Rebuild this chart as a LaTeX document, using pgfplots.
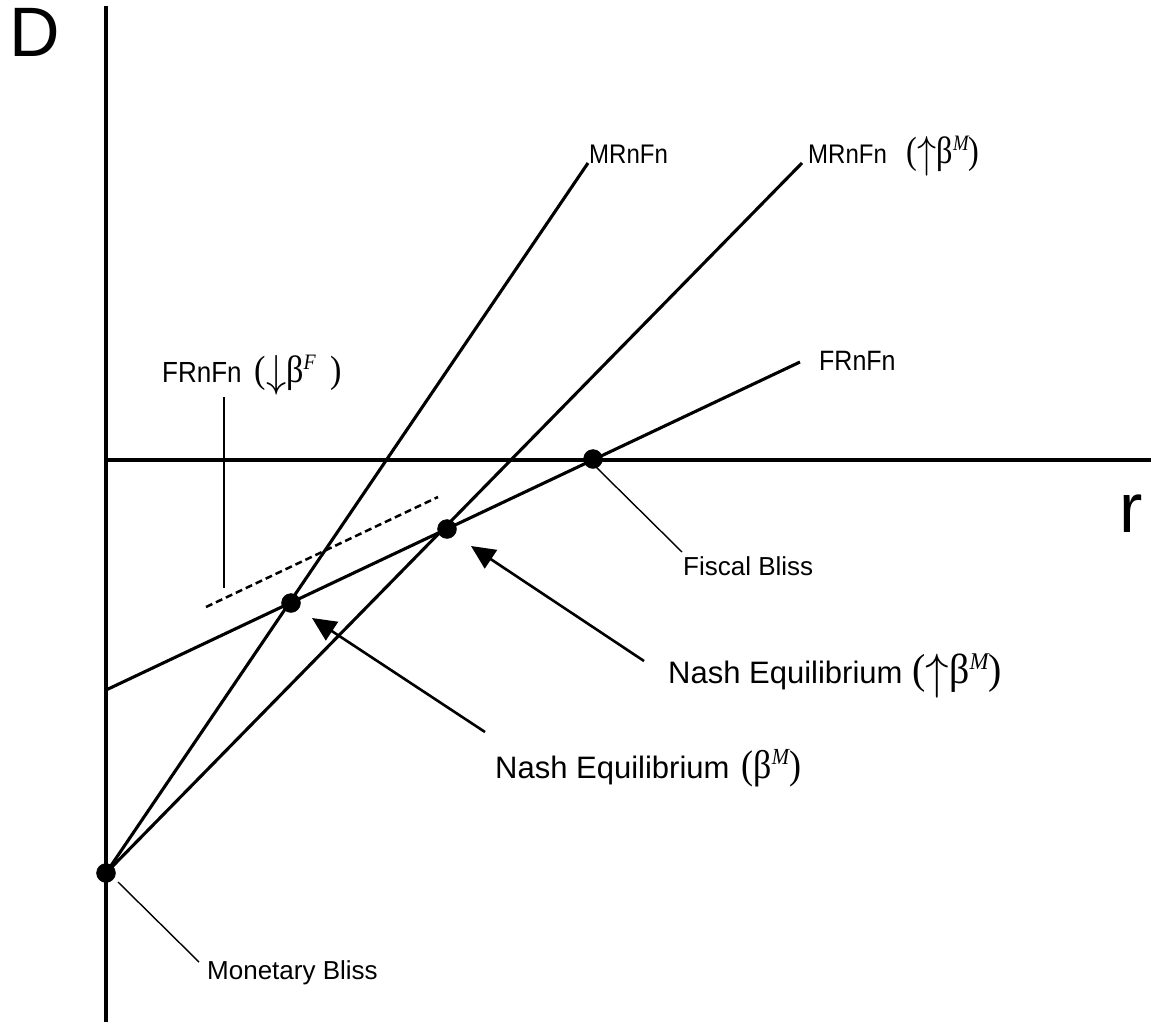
\documentclass[border=0pt]{standalone}
\usepackage{fontspec}
\setmainfont{Liberation Sans}
\newfontfamily\symf{Liberation Serif}
\usepackage{graphicx}
\usepackage{pgfplots}
\pgfplotsset{compat=1.18}
\usetikzlibrary{arrows.meta}

\newcommand{\fs}[1]{\fontsize{#1}{#1}\selectfont}
% thin vertical arrows, scaled to the height of the brackets
\newcommand{\uarr}{\raisebox{-0.12em}{\resizebox{!}{0.82em}{$\uparrow$}}}
\newcommand{\darr}{\raisebox{-0.12em}{\resizebox{!}{0.82em}{$\downarrow$}}}
% Greek/arrow groups set in a serif face, slightly condensed
\newcommand{\grp}[3]{{\symf\fs{#1}\scalebox{#2}[1]{#3}}}
% small labels, a little taller than wide
\newcommand{\tall}[2]{\scalebox{1}[1.12]{\fs{#1}#2}}

\begin{document}
\begin{tikzpicture}
\begin{axis}[
  scale only axis, width=1153pt, height=1026pt,
  xmin=0, xmax=1153, ymin=0, ymax=1026, y dir=reverse,
  hide axis,
]
\path (rel axis cs:0,0) rectangle (rel axis cs:1,1);

% coordinate axes
\addplot[line width=3.5pt] coordinates {(106,6) (106,1022)};
\addplot[line width=3.5pt] coordinates {(106,460) (1151,460)};

% reaction functions
\addplot[line width=3.1pt] coordinates {(106,873) (588,163)};
\addplot[line width=3.1pt] coordinates {(106,873) (802,163)};
\addplot[line width=3.1pt] coordinates {(106,690) (800,362)};
\addplot[line width=2.5pt, dash pattern=on 7pt off 4pt] coordinates {(206,607) (438,497)};

% pointer from the shifted fiscal label
\addplot[line width=2.5pt] coordinates {(224,397) (224,588)};

% leader lines
\addplot[line width=1.4pt] coordinates {(118,882) (199,962)};
\addplot[line width=1.4pt] coordinates {(596,467) (682,552)};

% arrows to the equilibria
\addplot[line width=2.6pt, -{Triangle[length=24pt,width=22pt]}] coordinates {(485,732) (312,618)};
\addplot[line width=2.6pt, -{Triangle[length=24pt,width=22pt]}] coordinates {(644,661) (471,546)};

% bliss points and equilibria
\addplot[only marks, mark=*, mark size=9.5pt] coordinates {(106,873) (291,603) (447,529) (593,459)};

% labels
\node[anchor=base west, inner sep=0] at (axis cs:9,56) {\fs{70}D};
\node[anchor=base west, inner sep=0] at (axis cs:1119,532) {\fs{70}r};
\node[anchor=base west, inner sep=0] at (axis cs:589,163) {\tall{24}{MRnFn}};
\node[anchor=base west, inner sep=0] at (axis cs:808,163) {\tall{24}{MRnFn}\hspace{20pt}\grp{38}{0.85}{(\uarr β\raisebox{13pt}{\fs{22}\itshape M})}};
\node[anchor=base west, inner sep=0] at (axis cs:819,370) {\tall{25}{FRnFn}};
\node[anchor=base west, inner sep=0] at (axis cs:162,382) {\tall{26}{FRnFn}\hspace{13pt}\grp{38}{0.9}{(\darr β\raisebox{13pt}{\fs{22}\itshape F}\hspace{16pt})}};
\node[anchor=base west, inner sep=0] at (axis cs:683,575) {\fs{26}Fiscal Bliss};
\node[anchor=base west, inner sep=0] at (axis cs:207,979) {\fs{26}Monetary Bliss};
\node[anchor=base west, inner sep=0] at (axis cs:668,683) {\fs{31}Nash Equilibrium\hspace{10pt}\grp{42}{0.95}{(\uarr β\raisebox{14pt}{\fs{24}\itshape M})}};
\node[anchor=base west, inner sep=0] at (axis cs:495,778) {\fs{31}Nash Equilibrium\hspace{12pt}\grp{40}{0.9}{(β\raisebox{14pt}{\fs{23}\itshape M})}};
\end{axis}
\end{tikzpicture}
\end{document}
